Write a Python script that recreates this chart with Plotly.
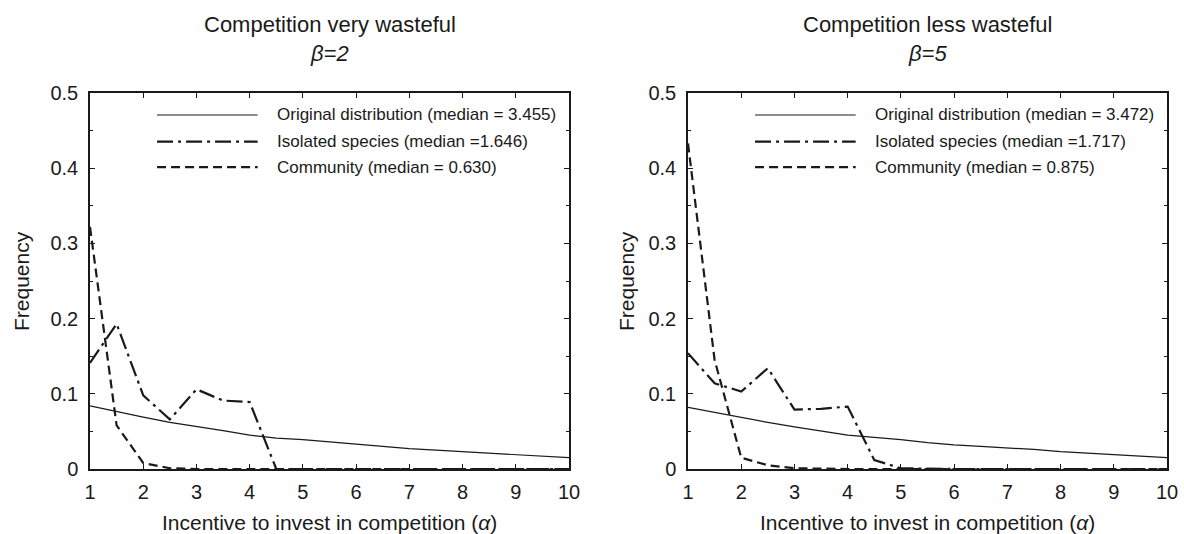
import plotly.graph_objects as go

alpha = [1, 1.5, 2, 2.5, 3, 3.5, 4, 4.5, 5, 5.5, 6, 6.5, 7, 7.5, 8, 8.5, 9, 9.5, 10]

# Left panel: beta = 2
orig_b2 = [0.084, 0.076, 0.069, 0.062, 0.057, 0.051, 0.045, 0.041, 0.039, 0.036, 0.033, 0.030, 0.027, 0.025, 0.023, 0.021, 0.019, 0.017, 0.015]
isol_b2 = [0.141, 0.193, 0.098, 0.066, 0.106, 0.091, 0.089, 0.0, 0, 0, 0, 0, 0, 0, 0, 0, 0, 0, 0]
comm_b2 = [0.322, 0.058, 0.008, 0.001, 0, 0, 0, 0, 0, 0, 0, 0, 0, 0, 0, 0, 0, 0, 0]

# Right panel: beta = 5
orig_b5 = [0.082, 0.075, 0.068, 0.062, 0.056, 0.051, 0.045, 0.042, 0.039, 0.035, 0.032, 0.030, 0.028, 0.026, 0.023, 0.021, 0.019, 0.017, 0.015]
isol_b5 = [0.154, 0.114, 0.103, 0.134, 0.079, 0.080, 0.083, 0.012, 0.001, 0, 0, 0, 0, 0, 0, 0, 0, 0, 0]
comm_b5 = [0.433, 0.145, 0.015, 0.005, 0.001, 0, 0, 0, 0, 0, 0, 0, 0, 0, 0, 0, 0, 0, 0]

titles = ["Competition very wasteful", "Competition less wasteful"]
betas = ["β=2", "β=5"]
legend_b2 = ["Original distribution (median = 3.455)", "Isolated species (median =1.646)", "Community (median = 0.630)"]
legend_b5 = ["Original distribution (median = 3.472)", "Isolated species (median =1.717)", "Community (median = 0.875)"]
xticks = [1, 2, 3, 4, 5, 6, 7, 8, 9, 10]
yticks = [0, 0.1, 0.2, 0.3, 0.4, 0.5]
yticktext = ["0", "0.1", "0.2", "0.3", "0.4", "0.5"]
xlabel = "Incentive to invest in competition (<i>α</i>)"
ylabel = "Frequency"

FONT = "Liberation Sans, Arial, Helvetica, sans-serif"
INK = "#1a1a1a"
styles = [
    dict(color=INK, width=1.2, dash="solid"),
    dict(color=INK, width=2.2, dash="16px,5px,3px,5px"),
    dict(color=INK, width=2.2, dash="9px,5px"),
]

W, H = 1184, 534

fig = go.Figure()
panels = [
    ("x", "y", [orig_b2, isol_b2, comm_b2], legend_b2),
    ("x2", "y2", [orig_b5, isol_b5, comm_b5], legend_b5),
]
for xa, ya, series, labels in panels:
    for s, st, lab in zip(series, styles, labels):
        fig.add_trace(go.Scatter(x=alpha, y=s, mode="lines", line=st, xaxis=xa, yaxis=ya,
                                 name=lab, showlegend=False, hoverinfo="skip"))

def px_x(p):
    return p / W

def px_y(p):
    return 1 - p / H

y_dom = [px_y(469), px_y(93)]
x_doms = [[px_x(90), px_x(569)], [px_x(688), px_x(1167)]]

axis_common = dict(showline=True, linecolor=INK, linewidth=1.5, mirror="ticks",
                   ticks="inside", ticklen=5, tickcolor=INK, tickwidth=1,
                   showgrid=False, zeroline=False, automargin=False,
                   tickfont=dict(family=FONT, size=20, color=INK))

layout = dict(
    width=W, height=H, margin=dict(l=0, r=0, t=0, b=0),
    plot_bgcolor="white", paper_bgcolor="white",
    font=dict(family=FONT, color=INK),
)
for i, (xn, yn) in enumerate([("xaxis", "yaxis"), ("xaxis2", "yaxis2")]):
    layout[xn] = dict(axis_common, domain=x_doms[i], range=[1, 10], tickvals=xticks,
                      anchor="y" if i == 0 else "y2", ticklabelstandoff=4)
    layout[yn] = dict(axis_common, domain=y_dom, range=[0, 0.5], tickvals=yticks, ticktext=yticktext,
                      anchor="x" if i == 0 else "x2", ticklabelstandoff=6,
                      minor=dict(dtick=0.05, ticks="inside", ticklen=3, tickcolor=INK, tickwidth=1))
fig.update_layout(**layout)

ylabel_x = [21, 626]
for i in range(2):
    cx = (x_doms[i][0] + x_doms[i][1]) / 2
    fig.add_annotation(text=titles[i], xref="paper", yref="paper", x=cx, y=px_y(24),
                       showarrow=False, xanchor="center", yanchor="middle",
                       font=dict(family=FONT, size=22, color=INK))
    fig.add_annotation(text="<i>" + betas[i] + "</i>", xref="paper", yref="paper", x=cx, y=px_y(53),
                       showarrow=False, xanchor="center", yanchor="middle",
                       font=dict(family=FONT, size=22, color=INK))
    fig.add_annotation(text=xlabel, xref="paper", yref="paper", x=cx, y=px_y(522),
                       showarrow=False, xanchor="center", yanchor="middle",
                       font=dict(family=FONT, size=21, color=INK))
    fig.add_annotation(text=ylabel, xref="paper", yref="paper", x=px_x(ylabel_x[i]),
                       y=(y_dom[0] + y_dom[1]) / 2, textangle=-90,
                       showarrow=False, xanchor="center", yanchor="middle",
                       font=dict(family=FONT, size=21, color=INK))

# custom legends (long line samples)
leg_rows = [0.9415, 0.8705, 0.803]
for i, (xa, ya, series, labels) in enumerate(panels):
    xd = xa + " domain"
    yd = ya + " domain"
    for row, st, lab in zip(leg_rows, styles, labels):
        fig.add_shape(type="line", xref=xd, yref=yd, x0=0.140, x1=0.350, y0=row, y1=row,
                      line=dict(color=st["color"], width=st["width"], dash=st["dash"]))
        fig.add_annotation(text=lab, xref=xd, yref=yd, x=0.387, y=row, showarrow=False,
                           xanchor="left", yanchor="middle",
                           font=dict(family=FONT, size=17, color=INK))

fig.write_html("out.html", config={"displayModeBar": False},
               post_script="document.body.style.margin='0';document.body.style.overflow='hidden';")
